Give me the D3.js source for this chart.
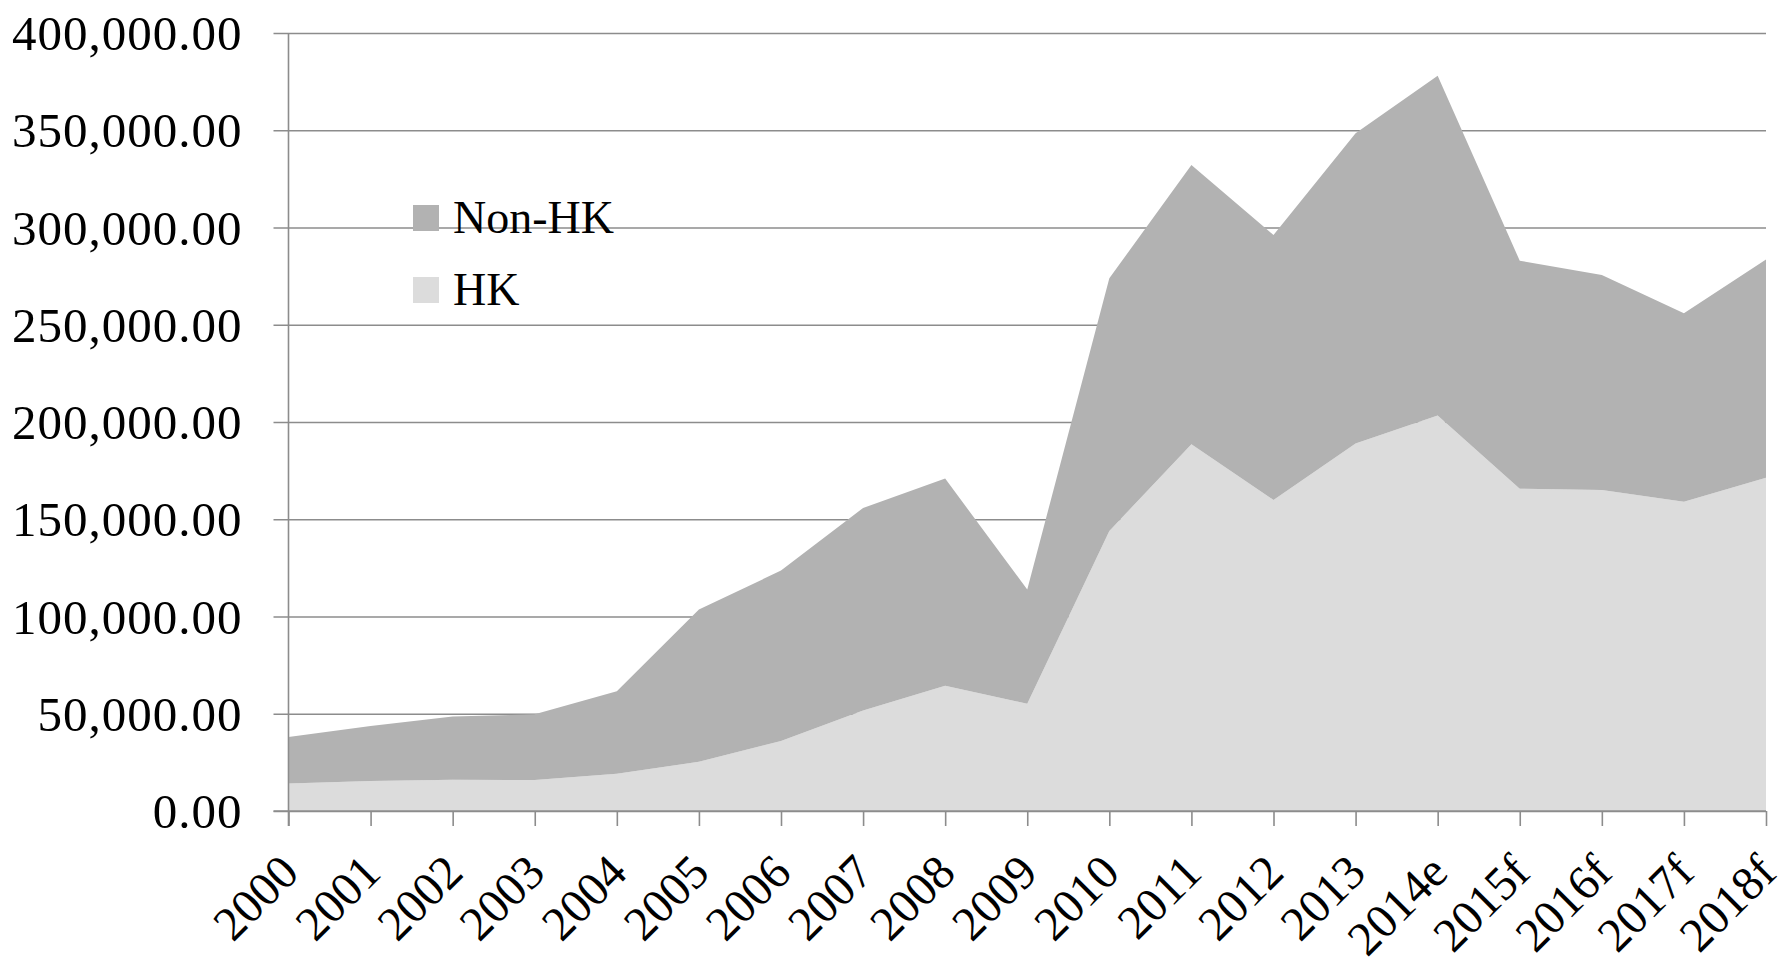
<!DOCTYPE html>
<html>
<head>
<meta charset="utf-8">
<script src="https://cdn.jsdelivr.net/npm/d3@7"></script>
<style>
  html, body { margin: 0; padding: 0; background: #fff; }
  svg { display: block; }
  text { font-family: "Liberation Serif", "Times New Roman", serif; fill: #000; }
</style>
</head>
<body>
<div id="chart"></div>
<script>
// years on the x axis
var years = ["2000", "2001", "2002", "2003", "2004", "2005", "2006", "2007", "2008", "2009",
             "2010", "2011", "2012", "2013", "2014e", "2015f", "2016f", "2017f", "2018f"];

// HK part (bottom layer)
var hk = [14200, 15400, 16100, 15900, 19200, 25300, 36000, 51700, 64400, 55100,
          144000, 188500, 159900, 188900, 203400, 165700, 165000, 159000, 171400];

// Non-HK part (stacked on top)
var nonHk = [23800, 28300, 32500, 33800, 42400, 78300, 87600, 104100, 106500, 58800,
             129900, 143600, 136200, 159500, 174600, 117200, 110600, 96900, 112200];

var yTicks = [0, 50000, 100000, 150000, 200000, 250000, 300000, 350000, 400000];

var seriesNames = ["HK", "Non-HK"];
var seriesColors = { "HK": "#dcdcdc", "Non-HK": "#b2b2b2" };

var width = 1781, height = 960;
var plotLeft = 288.5, plotRight = 1766, plotTop = 33, plotBottom = 811;

var svg = d3.select("#chart").append("svg")
    .attr("width", width)
    .attr("height", height);

var x = d3.scalePoint()
    .domain(years)
    .range([plotLeft, plotRight]);

var y = d3.scaleLinear()
    .domain([0, 400000])
    .range([plotBottom, plotTop]);

var rows = years.map(function(yr, i) {
    return { year: yr, "HK": hk[i], "Non-HK": nonHk[i] };
});

var layers = d3.stack().keys(seriesNames)(rows);

// gridlines + y axis labels
var yAxis = svg.append("g")
    .attr("transform", "translate(" + plotLeft + ",0)")
    .call(d3.axisLeft(y)
        .tickValues(yTicks)
        .tickSize(15)
        .tickPadding(31)
        .tickFormat(d3.format(",.2f")));

yAxis.select(".domain").remove();
yAxis.selectAll(".tick line")
    .attr("x2", plotRight - plotLeft)
    .attr("x1", -15)
    .attr("stroke", "#8c8c8c")
    .attr("stroke-width", 1.6);
yAxis.selectAll(".tick text")
    .style("font-size", "49px")
    .style("letter-spacing", "1px")
    .style("font-family", "'Liberation Serif', serif")
    .attr("dy", "0.34em");

// stacked areas
var area = d3.area()
    .x(function(d) { return x(d.data.year); })
    .y0(function(d) { return y(d[0]); })
    .y1(function(d) { return y(d[1]); });

svg.append("g").selectAll("path")
    .data(layers)
    .enter().append("path")
    .attr("d", area)
    .attr("fill", function(d) { return seriesColors[d.key]; });

// vertical axis line
svg.append("line")
    .attr("x1", plotLeft).attr("x2", plotLeft)
    .attr("y1", plotTop).attr("y2", plotBottom + 15)
    .attr("stroke", "#8c8c8c")
    .attr("stroke-width", 1.6);

// x axis
var xAxis = svg.append("g")
    .attr("transform", "translate(0," + plotBottom + ")")
    .call(d3.axisBottom(x).tickSize(15).tickSizeOuter(0));

xAxis.select(".domain")
    .attr("stroke", "#8c8c8c")
    .attr("stroke-width", 1.6)
    .attr("d", "M" + (plotLeft - 15) + ",0H" + plotRight);
xAxis.selectAll(".tick line")
    .attr("stroke", "#8c8c8c")
    .attr("stroke-width", 1.6);
xAxis.selectAll(".tick text")
    .style("font-size", "48px")
    .style("font-family", "'Liberation Serif', serif")
    .attr("text-anchor", "end")
    .attr("x", 0)
    .attr("y", 0)
    .attr("dy", 0)
    .attr("transform", "translate(12,64) rotate(-45)");

// legend (Non-HK above HK)
var legendItems = ["Non-HK", "HK"];
var legend = svg.append("g")
    .attr("transform", "translate(413,205)");

var li = legend.selectAll("g")
    .data(legendItems)
    .enter().append("g")
    .attr("transform", function(d, i) { return "translate(0," + (i * 72) + ")"; });

li.append("rect")
    .attr("width", 26)
    .attr("height", 26)
    .attr("fill", function(d) { return seriesColors[d]; });

li.append("text")
    .attr("x", 40)
    .attr("y", 28)
    .style("font-size", "46px")
    .text(function(d) { return d; });
</script>
</body>
</html>
